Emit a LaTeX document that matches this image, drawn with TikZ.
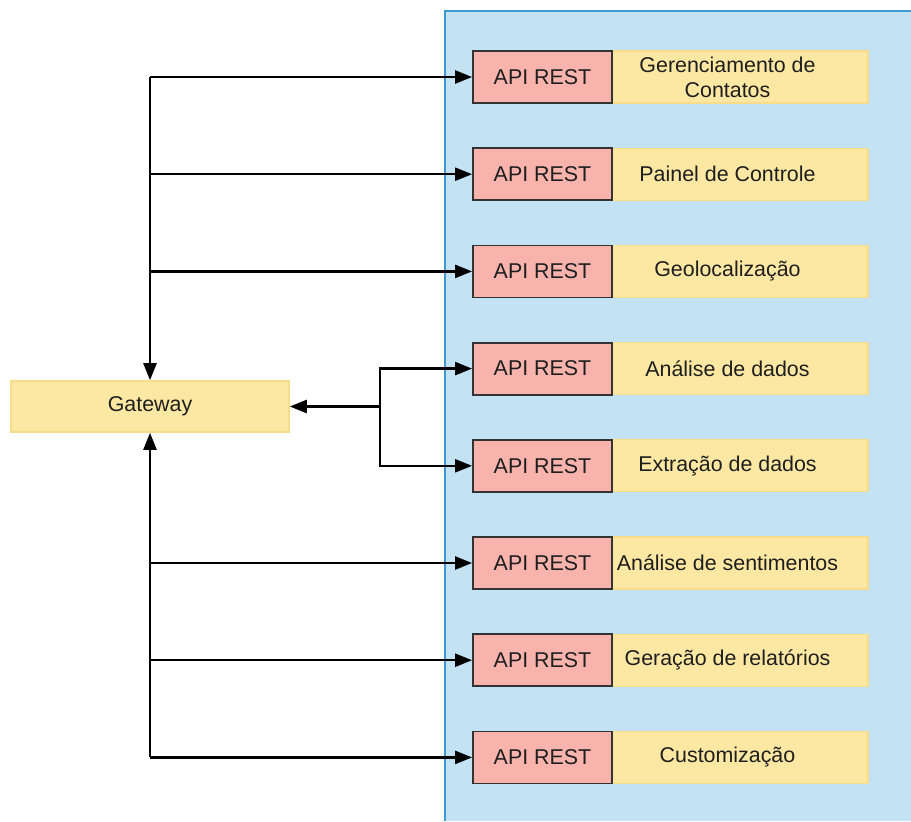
\documentclass[tikz,border=0pt]{standalone}
\usepackage{fontspec}
\setmainfont{Liberation Sans}
\usetikzlibrary{arrows.meta}
\definecolor{panel}{HTML}{C3E3F5}
\definecolor{panelline}{HTML}{3E9AD0}
\definecolor{apired}{HTML}{F8B4AC}
\definecolor{lblyellow}{HTML}{FCE8A3}
\definecolor{lblborder}{HTML}{F7DC8A}
\definecolor{txt}{HTML}{1E1E1E}
\begin{document}
\begin{tikzpicture}[x=0.5pt,y=-0.5pt,
  font=\fontsize{10.7}{12.5}\selectfont, text=txt,
  api/.style={draw=black!80, line width=0.9pt, fill=apired, minimum width=69.5pt, minimum height=26pt, inner sep=0pt},
  lbl/.style={draw=lblborder, line width=0.6pt, fill=lblyellow, minimum width=140.5pt, minimum height=26pt, inner sep=0pt, align=center},
  gwbox/.style={draw=lblborder, line width=0.8pt, fill=lblyellow, minimum width=139pt, minimum height=25.5pt, inner sep=0pt},
  conn/.style={line width=1.2pt, draw=black, -{Triangle[length=8.5pt,width=6.5pt]}}]
\useasboundingbox (0,0) rectangle (911,821);
\fill[white] (0,0) rectangle (911,821);
% panel
\fill[panel] (445,11) rectangle (911,821);
\draw[panelline, line width=0.8pt] (445,821) -- (445,11) -- (911,11);
% rows
\foreach \i/\y/\t in {1/77/{Gerenciamento de\\Contatos},2/174.2/{Painel de Controle},3/271.4/{Geolocalização},4/368.6/{Análise de dados},5/465.8/{Extração de dados},6/563/{Análise de sentimentos},7/660.2/{Geração de relatórios},8/757.4/{Customização}}{
  \node[lbl] (l\i) at (727.5,\y) {\t};
  \node[api] (a\i) at (542.5,\y) {API REST};
}
% gateway
\node[gwbox] (gw) at (150,406.5) {Gateway};
% left trunk coordinates
\foreach \i/\y in {1/77,2/174.2,3/271.4,6/563,7/660.2,8/757.4}{
  \coordinate (t\i) at (150,\y);
}
\draw[conn] (t1) -- (gw.north);
\draw[conn] (t8) -- (gw.south);
\foreach \i in {1,2,3,6,7,8}{
  \draw[conn] (t\i) -- (a\i.west);
}
% branch
\coordinate (b) at (380,406.5);
\draw[conn] (b) -- (gw.east);
\draw[conn] (b) |- (a4.west);
\draw[conn] (b) |- (a5.west);
\end{tikzpicture}
\end{document}
